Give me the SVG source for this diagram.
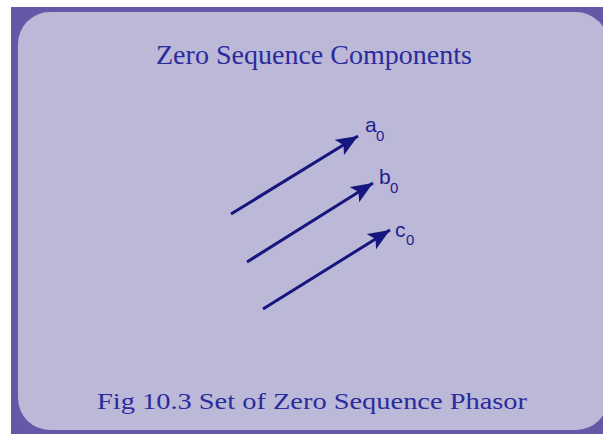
<svg xmlns="http://www.w3.org/2000/svg" width="603" height="434" viewBox="0 0 603 434">
<defs>
<style>
.ttl{font-family:"Liberation Serif","Times New Roman",serif;fill:#2B2B9C;}
.lbl{font-family:"Liberation Sans",Arial,sans-serif;fill:#1E1E8C;}
.ph{stroke:#16167E;stroke-width:3;fill:none;marker-end:url(#ah);}
</style>
<marker id="ah" viewBox="0 0 22 18" refX="22" refY="9" markerWidth="22" markerHeight="18" markerUnits="userSpaceOnUse" orient="auto">
<path d="M0,0 L22,9 L0,18 L5,9 z" fill="#16167E"/>
</marker>
</defs>
<rect x="0" y="0" width="603" height="434" fill="#ffffff"/>
<rect x="11" y="7" width="592" height="427" fill="#6558A8"/>
<rect x="18" y="12" width="590" height="418" rx="32" ry="32" fill="#BCB8D7"/>
<text class="ttl" x="156" y="64" font-size="27" textLength="316" lengthAdjust="spacingAndGlyphs">Zero Sequence Components</text>
<g id="connectors">
<line class="ph" x1="231" y1="214" x2="358" y2="136"/>
<line class="ph" x1="247" y1="262" x2="373" y2="183"/>
<line class="ph" x1="263" y1="309" x2="390" y2="230"/>
</g>
<g id="a0"><text class="lbl" x="365" y="132" font-size="21">a</text><text class="lbl" x="376" y="141" font-size="15">0</text></g>
<g id="b0"><text class="lbl" x="379" y="184" font-size="21">b</text><text class="lbl" x="390" y="193" font-size="15">0</text></g>
<g id="c0"><text class="lbl" x="395" y="237" font-size="21">c</text><text class="lbl" x="406" y="245" font-size="15">0</text></g>
<text class="ttl" x="97" y="409" font-size="24" textLength="430" lengthAdjust="spacingAndGlyphs">Fig 10.3 Set of Zero Sequence Phasor</text>
</svg>
